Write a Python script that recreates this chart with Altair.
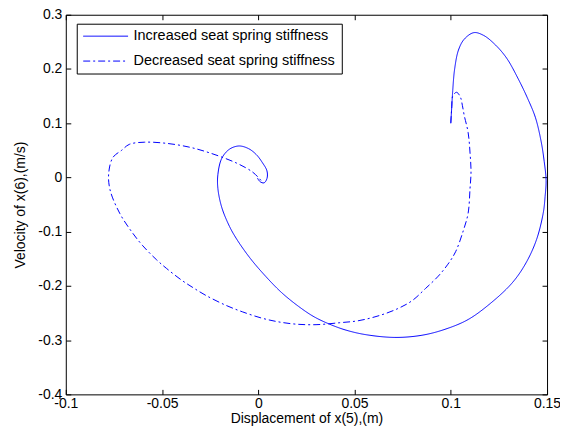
import altair as alt
import pandas as pd

series_names = ["Increased seat spring stiffness", "Decreased seat spring stiffness"]

inc_x = [0.100, 0.1005, 0.101, 0.102, 0.104, 0.107, 0.112, 0.117, 0.123, 0.129,
         0.135, 0.140, 0.144, 0.147, 0.1485, 0.1495, 0.149, 0.148, 0.1445, 0.139,
         0.132, 0.121, 0.109, 0.097, 0.085, 0.071, 0.056, 0.046, 0.038, 0.029,
         0.021, 0.012, 0.004, -0.004, -0.011, -0.015, -0.019, -0.021, -0.021, -0.019,
         -0.015, -0.010, -0.005, -0.001, 0.002, 0.0045, 0.0045, 0.003, 0.001, -0.0005]
inc_y = [0.100, 0.130, 0.160, 0.200, 0.235, 0.255, 0.267, 0.262, 0.245, 0.220,
         0.182, 0.145, 0.110, 0.065, 0.030, -0.005, -0.035, -0.066, -0.115, -0.158,
         -0.194, -0.231, -0.262, -0.280, -0.291, -0.295, -0.290, -0.282, -0.272, -0.257,
         -0.238, -0.212, -0.183, -0.150, -0.115, -0.090, -0.055, -0.020, 0.005, 0.035,
         0.052, 0.058, 0.053, 0.042, 0.028, 0.012, -0.002, -0.010, -0.008, -0.001]

dec_x = [0.100, 0.1005, 0.101, 0.103, 0.105, 0.106, 0.107, 0.109, 0.110, 0.1105,
         0.110, 0.109, 0.1066, 0.1025, 0.0985, 0.0935, 0.0868, 0.0800, 0.073, 0.0635,
         0.0523, 0.042, 0.030, 0.0195, 0.010, 0.0014, -0.0081, -0.0167, -0.0270, -0.034,
         -0.040, -0.0476, -0.0528, -0.060, -0.0657, -0.072, -0.077, -0.0777, -0.0755, -0.071,
         -0.067, -0.059, -0.048, -0.036, -0.025, -0.011, -0.003, 0.000, 0.002]
dec_y = [0.100, 0.130, 0.150, 0.157, 0.148, 0.133, 0.114, 0.083, 0.045, 0.010,
         -0.020, -0.066, -0.097, -0.137, -0.160, -0.182, -0.205, -0.227, -0.241, -0.254,
         -0.264, -0.268, -0.2715, -0.2705, -0.266, -0.259, -0.248, -0.236, -0.218, -0.203,
         -0.189, -0.168, -0.152, -0.126, -0.1005, -0.066, -0.023, 0.008, 0.037, 0.050,
         0.061, 0.065, 0.063, 0.056, 0.045, 0.026, 0.010, 0.000, -0.008]

x_ticks = [-0.1, -0.05, 0, 0.05, 0.1, 0.15]
y_ticks = [-0.4, -0.3, -0.2, -0.1, 0, 0.1, 0.2, 0.3]

rows = []
for i, (x, y) in enumerate(zip(inc_x, inc_y)):
    rows.append({"x": x, "y": y, "series": series_names[0], "i": i})
for i, (x, y) in enumerate(zip(dec_x, dec_y)):
    rows.append({"x": x, "y": y, "series": series_names[1], "i": i})
df = pd.DataFrame(rows)

W, H = 483, 381
FONT = "Liberation Sans"
FS = 14

xs = alt.Scale(domain=[-0.1, 0.15], nice=False, zero=False)
ys = alt.Scale(domain=[-0.4, 0.3], nice=False, zero=False)

lab = "'' + datum.value"

legend_opts = dict(
    orient="none", legendX=11, legendY=9, title=None,
    symbolType="stroke", symbolSize=2025, symbolStrokeWidth=1,
    labelFont=FONT, labelFontSize=14.5, labelColor="black", labelOffset=5, labelLimit=0,
    strokeColor="black", fillColor="white", padding=6,
    clipHeight=13, rowPadding=10,
)

lines = alt.Chart(df).mark_line(strokeWidth=1, clip=True, interpolate="catmull-rom").encode(
    x=alt.X("x:Q", scale=xs, axis=alt.Axis(
        values=x_ticks, title="Displacement of x(5),(m)", labelExpr=lab,
        ticks=False, domain=False, grid=False, labelPadding=2, titlePadding=1,
        labelFlush=False, labelOverlap=False,
        labelFont=FONT, labelFontSize=FS, labelColor="black",
        titleFont=FONT, titleFontSize=FS, titleFontWeight="normal", titleColor="black")),
    y=alt.Y("y:Q", scale=ys, axis=alt.Axis(
        values=y_ticks, title="Velocity of x(6),(m/s)", labelExpr=lab,
        ticks=False, domain=False, grid=False, labelPadding=4, titlePadding=10,
        labelFlush=False, labelOverlap=False,
        labelFont=FONT, labelFontSize=FS, labelColor="black",
        titleFont=FONT, titleFontSize=FS, titleFontWeight="normal", titleColor="black")),
    color=alt.Color("series:N", scale=alt.Scale(domain=series_names, range=["#0000ff", "#0000ff"]),
                    legend=alt.Legend(**legend_opts)),
    strokeDash=alt.StrokeDash("series:N", scale=alt.Scale(domain=series_names, range=[[1, 0], [7, 3, 2, 3]]),
                              legend=alt.Legend(**legend_opts)),
    order=alt.Order("i:Q"),
)

def tick_axis(orient, vals):
    return alt.Axis(orient=orient, offset=-(H if orient in ("top", "bottom") else W),
                    values=vals, labels=False, ticks=True, tickSize=5, tickColor="black",
                    domain=False, grid=False, title=None)

ticksA = alt.Chart(df).mark_point(opacity=0).encode(
    x=alt.X("x:Q", scale=xs, axis=tick_axis("top", x_ticks)),
    y=alt.Y("y:Q", scale=ys, axis=tick_axis("right", y_ticks)),
)
ticksB = alt.Chart(df).mark_point(opacity=0).encode(
    x=alt.X("x:Q", scale=xs, axis=tick_axis("bottom", x_ticks)),
    y=alt.Y("y:Q", scale=ys, axis=tick_axis("left", y_ticks)),
)

chart = alt.layer(lines, ticksA, ticksB).resolve_axis(
    x="independent", y="independent"
).properties(
    width=W, height=H,
    autosize=alt.AutoSizeParams(type="none"),
    padding={"left": 58, "top": 6, "right": 13, "bottom": 35},
    background="white",
).configure_view(stroke="black", strokeWidth=1)

chart.save("out.html", embed_options={"renderer": "svg", "actions": False})
